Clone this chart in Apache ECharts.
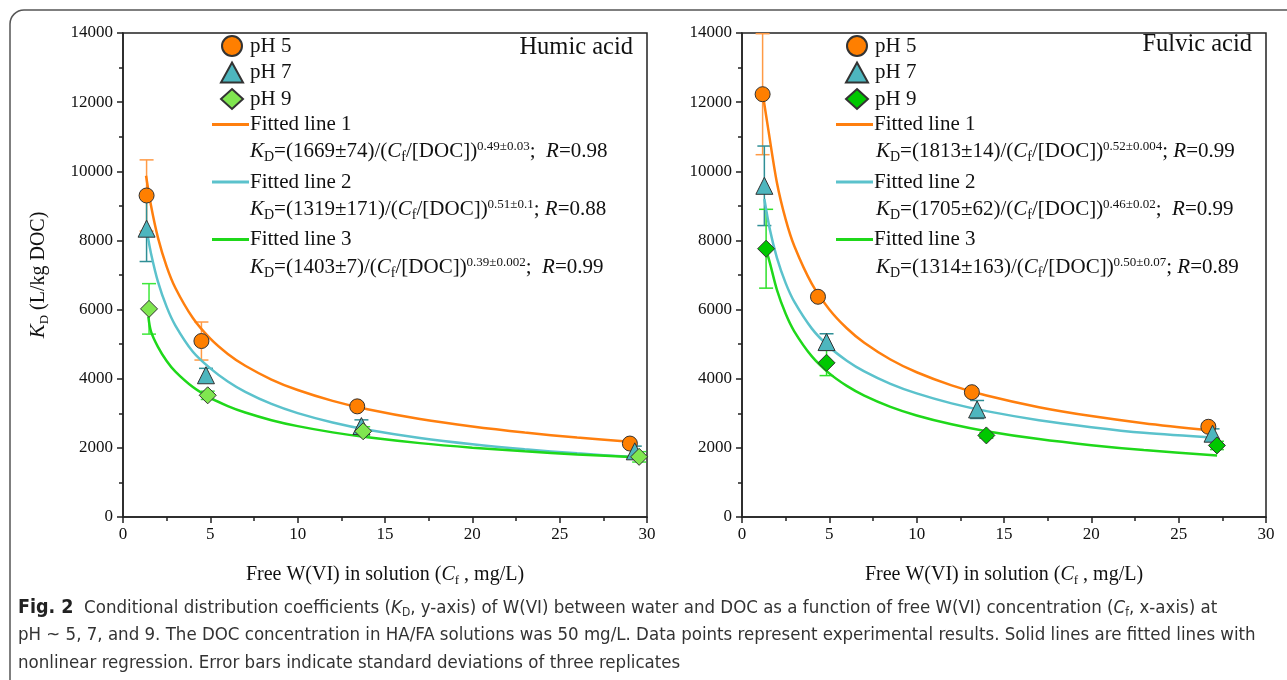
<!DOCTYPE html>
<html>
<head>
<meta charset="utf-8">
<script src="https://cdn.jsdelivr.net/npm/echarts@6/dist/echarts.min.js"></script>
<style>
  html, body { margin: 0; padding: 0; background: #fff; }
  #main { width: 1287px; height: 680px; }
</style>
</head>
<body>
<div id="main"></div>
<script>
// measured points, [Cf (mg/L), KD (L/kg DOC)]
const humicPH5 = [[1.35, 9300], [4.49, 5090], [13.41, 3200], [29.02, 2125]]
const humicPH7 = [[1.35, 8340], [4.75, 4100], [13.65, 2630], [29.3, 1900]]
const humicPH9 = [[1.49, 6020], [4.85, 3520], [13.75, 2480], [29.55, 1740]]
const fulvicPH5 = [[1.18, 12230], [4.35, 6370], [13.16, 3610], [26.7, 2610]]
const fulvicPH7 = [[1.28, 9580], [4.84, 5060], [13.46, 3110], [26.94, 2410]]
const fulvicPH9 = [[1.38, 7760], [4.84, 4460], [13.99, 2360], [27.19, 2070]]

// standard deviations (same order as the points)
const humicSD5 = [1030, 550, 90, 90]
const humicSD7 = [950, 200, 180, 150]
const humicSD9 = [730, 120, 130, 150]
const fulvicSD5 = [1750, 100, 100, 100]
const fulvicSD7 = [1150, 240, 260, 140]
const fulvicSD9 = [1140, 370, 80, 120]

// fitted curves
const humicFit1X = [1.32, 1.6, 2, 2.5, 3, 4, 5, 6, 7, 8.5, 10, 12, 14, 17, 20, 23, 26, 29.2]
const humicFit1Y = [9870, 9015, 8081, 7244, 6624, 5754, 5158, 4717, 4374, 3977, 3672, 3359, 3114, 2832, 2615, 2442, 2299, 2172]
const humicFit2X = [1.4, 1.6, 2, 2.5, 3, 4, 5, 6, 7, 8.5, 10, 12, 14, 17, 20, 23, 26, 29.5]
const humicFit2Y = [8170, 7632, 6810, 6078, 5539, 4782, 4300, 3920, 3620, 3270, 3005, 2735, 2525, 2287, 2105, 1960, 1841, 1726]
const humicFit3X = [1.45, 1.6, 2, 2.5, 3, 4, 5, 6, 7, 8.5, 10, 12, 14, 17, 20, 23, 26, 29.7]
const humicFit3Y = [5800, 5370, 4923, 4513, 4203, 3757, 3444, 3208, 3021, 2800, 2628, 2448, 2305, 2137, 2006, 1899, 1811, 1719]

const fulvicFit1X = [1.2, 1.5, 2, 2.5, 3, 4, 5, 6, 7, 8.5, 10, 12, 14, 17, 20, 23, 26.8]
const fulvicFit1Y = [12200, 11228, 9669, 8609, 7830, 6742, 6004, 5460, 5040, 4556, 4187, 3808, 3514, 3177, 2920, 2715, 2508]
const fulvicFit2X = [1.28, 1.6, 2, 2.5, 3, 4, 5, 6, 7, 8.5, 10, 12, 14, 17, 20, 23, 27.2]
const fulvicFit2Y = [9200, 8305, 7495, 6764, 6220, 5449, 4917, 4522, 4212, 3852, 3575, 3287, 3062, 2800, 2599, 2437, 2290]
const fulvicFit3X = [1.4, 1.6, 2, 2.5, 3, 4, 5, 6, 7, 8.5, 10, 12, 14, 17, 20, 23, 27.2]
const fulvicFit3Y = [7700, 7345, 6571, 5877, 5364, 4646, 4155, 3793, 3512, 3187, 2938, 2682, 2483, 2253, 2078, 1937, 1782]

const humicFormulas = [
  ['1669±74', '0.49±0.03', ';  ', '0.98'],
  ['1319±171', '0.51±0.1', '; ', '0.88'],
  ['1403±7', '0.39±0.002', ';  ', '0.99']
]
const fulvicFormulas = [
  ['1813±14', '0.52±0.004', '; ', '0.99'],
  ['1705±62', '0.46±0.02', ';  ', '0.99'],
  ['1314±163', '0.50±0.07', '; ', '0.89']
]

const serif = "'Liberation Serif', 'Times New Roman', serif"
const sans = "'Liberation Sans Narrow', 'DejaVu Sans Condensed', 'Open Sans', sans-serif"

const orange = '#ff7f0e'
const teal = '#5bc2cc'
const green = '#1fd81a'

const chart = echarts.init(document.getElementById('main'))

const richMath = {
  i: { fontStyle: 'italic', fontFamily: serif, fontSize: 21, fill: '#111' },
  sub: { fontFamily: serif, fontSize: 14, padding: [12, 0, 0, 0], fill: '#111' },
  sup: { fontFamily: serif, fontSize: 13, padding: [0, 0, 10, 0], fill: '#111' }
}

const formulaText = f =>
  '{i|K}{sub|D}=(' + f[0] + ')/({i|C}{sub|f}/[DOC]){sup|' + f[1] + '}' + f[2] + '{i|R}=' + f[3]

const errorSeries = (points, sd, color, gridIdx) => ({
  type: 'custom',
  xAxisIndex: gridIdx,
  yAxisIndex: gridIdx,
  data: points.map((p, i) => [p[0], p[1], sd[i]]),
  encode: { x: 0, y: 1 },
  z: 2,
  silent: true,
  renderItem: (params, api) => {
    const x = api.value(0)
    const y = api.value(1)
    const e = api.value(2)
    const hi = api.coord([x, y + e])
    const lo = api.coord([x, y - e])
    const st = { stroke: color, lineWidth: 1.5 }
    return {
      type: 'group',
      children: [
        { type: 'line', shape: { x1: hi[0], y1: hi[1], x2: lo[0], y2: lo[1] }, style: st },
        { type: 'line', shape: { x1: hi[0] - 7, y1: hi[1], x2: hi[0] + 7, y2: hi[1] }, style: st },
        { type: 'line', shape: { x1: lo[0] - 7, y1: lo[1], x2: lo[0] + 7, y2: lo[1] }, style: st }
      ]
    }
  }
})

const fitSeries = (name, xs, ys, color, gridIdx) => ({
  name: name,
  type: 'line',
  xAxisIndex: gridIdx,
  yAxisIndex: gridIdx,
  data: xs.map((x, i) => [x, ys[i]]),
  smooth: 0.3,
  symbol: 'none',
  z: 3,
  lineStyle: { color: color, width: 2.5 },
  itemStyle: { color: color }
})

const markerSeries = (name, points, symbol, size, color, gridIdx) => ({
  name: name,
  type: 'scatter',
  xAxisIndex: gridIdx,
  yAxisIndex: gridIdx,
  data: points,
  symbol: symbol,
  symbolSize: size,
  z: 4,
  itemStyle: { color: color, borderColor: '#333', borderWidth: 1, opacity: 1 }
})

const axisX = gridIdx => ({
  type: 'value',
  gridIndex: gridIdx,
  min: 0,
  max: 30,
  interval: 5,
  axisLine: { lineStyle: { color: '#222', width: 1.5 } },
  axisTick: { length: 6, lineStyle: { color: '#222', width: 1.5 } },
  minorTick: { show: true, splitNumber: 2, length: 4, lineStyle: { color: '#222', width: 1.5 } },
  splitLine: { show: false },
  axisLabel: { color: '#111', fontFamily: serif, fontSize: 17, margin: 9 },
  name: 'Free W(VI) in solution ({i|C}{sub|f} , mg/L)',
  nameLocation: 'middle',
  nameGap: 45,
  nameTextStyle: {
    color: '#111', fontFamily: serif, fontSize: 20,
    rich: {
      i: { fontStyle: 'italic', fontFamily: serif, fontSize: 20, color: '#111' },
      sub: { fontFamily: serif, fontSize: 13, padding: [12, 0, 0, 0], color: '#111' }
    }
  }
})

const axisY = (gridIdx, withName) => ({
  type: 'value',
  gridIndex: gridIdx,
  min: 0,
  max: 14000,
  interval: 2000,
  axisLine: { show: true, lineStyle: { color: '#222', width: 1.5 } },
  axisTick: { show: true, length: 6, lineStyle: { color: '#222', width: 1.5 } },
  minorTick: { show: true, splitNumber: 2, length: 4, lineStyle: { color: '#222', width: 1.5 } },
  splitLine: { show: false },
  axisLabel: { color: '#111', fontFamily: serif, fontSize: 17, margin: 10, formatter: v => String(v) },
  name: withName ? '{i|K}{sub|D} (L/kg DOC)' : '',
  nameLocation: 'middle',
  nameRotate: 90,
  nameGap: 72,
  nameTextStyle: {
    color: '#111', fontFamily: serif, fontSize: 20,
    rich: {
      i: { fontStyle: 'italic', fontFamily: serif, fontSize: 21, color: '#111' },
      sub: { fontFamily: serif, fontSize: 13, padding: [12, 0, 0, 0], color: '#111' }
    }
  }
})

const markerLegend = (left, extra) => ({
  orient: 'vertical',
  left: left,
  top: 35,
  padding: 0,
  itemWidth: 22,
  itemHeight: 20,
  itemGap: 4.5,
  selectedMode: false,
  textStyle: { color: '#111', fontFamily: serif, fontSize: 21, padding: [0, 0, 0, 2] },
  data: ['pH 5', 'pH 7', Object.assign({ name: 'pH 9' }, extra)]
})

const lineLegend = (left, colors) => ({
  orient: 'vertical',
  left: left,
  top: 114,
  padding: 0,
  itemWidth: 37,
  itemHeight: 3,
  itemGap: 36.5,
  selectedMode: false,
  textStyle: { color: '#111', fontFamily: serif, fontSize: 21, padding: [0, 0, 0, -4] },
  data: ['Fitted line 1', 'Fitted line 2', 'Fitted line 3'].map((n, i) => ({
    name: n,
    icon: 'rect',
    itemStyle: { color: colors[i], borderWidth: 0 }
  }))
})

const formulaGraphics = (list, left) => list.map((f, i) => ({
  type: 'text',
  left: left,
  top: 140 + i * 58,
  style: {
    text: formulaText(f),
    fontFamily: serif,
    fontSize: 21,
    fill: '#111',
    rich: richMath
  }
}))

const captionRich = {
  b: { fontFamily: sans, fontWeight: 'bold', fontSize: 19.5, fill: '#222' },
  i: { fontFamily: sans, fontStyle: 'italic', fontSize: 18.5, fill: '#333' },
  sub: { fontFamily: sans, fontSize: 12, padding: [10, 0, 0, 0], fill: '#333' }
}

const captionLines = [
  '{b|Fig. 2}  Conditional distribution coefficients ({i|K}{sub|D}, y-axis) of W(VI) between water and DOC as a function of free W(VI) concentration ({i|C}{sub|f}, x-axis) at',
  'pH ~ 5, 7, and 9. The DOC concentration in HA/FA solutions was 50 mg/L. Data points represent experimental results. Solid lines are fitted lines with',
  'nonlinear regression. Error bars indicate standard deviations of three replicates'
]

const fitColors = [orange, teal, green]

const option = {
  animation: false,
  backgroundColor: '#fff',
  grid: [
    { left: 123, top: 33, width: 524, height: 484, show: true, borderColor: '#222', borderWidth: 1.5 },
    { left: 742, top: 33, width: 524, height: 484, show: true, borderColor: '#222', borderWidth: 1.5 }
  ],
  xAxis: [axisX(0), axisX(1)],
  yAxis: [axisY(0, true), axisY(1, false)],
  legend: [
    markerLegend(220, {}),
    lineLegend(212, fitColors),
    markerLegend(845, { itemStyle: { color: '#00c800' } }),
    lineLegend(836, fitColors)
  ],
  graphic: [
    {
      type: 'rect',
      shape: { x: 10, y: 10, width: 1320, height: 720, r: 14 },
      style: { fill: 'none', stroke: '#555', lineWidth: 1.5 },
      silent: true
    },
    { type: 'text', right: 1287 - 633, top: 35, style: { text: 'Humic acid', fontFamily: serif, fontSize: 24.5, fill: '#111' } },
    { type: 'text', right: 1287 - 1252, top: 32, style: { text: 'Fulvic acid', fontFamily: serif, fontSize: 24.5, fill: '#111' } },
    ...formulaGraphics(humicFormulas, 250),
    ...formulaGraphics(fulvicFormulas, 876),
    ...captionLines.map((t, i) => ({
      type: 'text',
      left: 18,
      top: 598 + i * 28,
      style: { text: t, fontFamily: sans, fontSize: 18.5, fill: '#333', rich: captionRich }
    }))
  ],
  series: [
    errorSeries(humicPH5, humicSD5, '#ff9a45', 0),
    errorSeries(humicPH7, humicSD7, '#2f8f96', 0),
    errorSeries(humicPH9, humicSD9, '#3ee83a', 0),
    fitSeries('Fitted line 1', humicFit1X, humicFit1Y, orange, 0),
    fitSeries('Fitted line 2', humicFit2X, humicFit2Y, teal, 0),
    fitSeries('Fitted line 3', humicFit3X, humicFit3Y, green, 0),
    markerSeries('pH 5', humicPH5, 'circle', 15, '#ff7f00', 0),
    markerSeries('pH 7', humicPH7, 'triangle', 17, '#4db6be', 0),
    markerSeries('pH 9', humicPH9, 'diamond', 17, '#80e650', 0),

    errorSeries(fulvicPH5, fulvicSD5, '#ff9a45', 1),
    errorSeries(fulvicPH7, fulvicSD7, '#2f8f96', 1),
    errorSeries(fulvicPH9, fulvicSD9, '#2ee02a', 1),
    fitSeries('Fitted line 1', fulvicFit1X, fulvicFit1Y, orange, 1),
    fitSeries('Fitted line 2', fulvicFit2X, fulvicFit2Y, teal, 1),
    fitSeries('Fitted line 3', fulvicFit3X, fulvicFit3Y, green, 1),
    markerSeries('pH 5', fulvicPH5, 'circle', 15, '#ff7f00', 1),
    markerSeries('pH 7', fulvicPH7, 'triangle', 17, '#4db6be', 1),
    markerSeries('pH 9', fulvicPH9, 'diamond', 17, '#00c800', 1)
  ]
}

option && chart.setOption(option)
</script>
</body>
</html>
